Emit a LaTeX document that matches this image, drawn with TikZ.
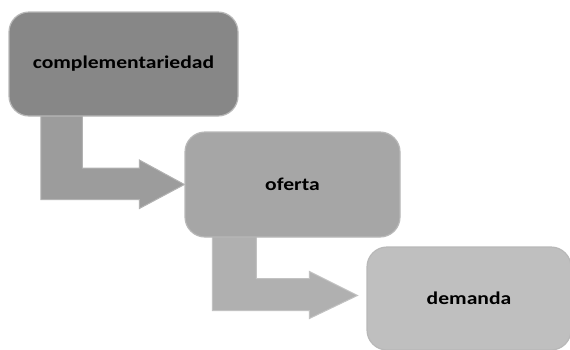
\documentclass[tikz,border=0pt]{standalone}
\usepackage{fontspec}
\setmainfont{Carlito}
\usetikzlibrary{calc,backgrounds}
\begin{document}
\begin{tikzpicture}[x=1pt,y=-1pt,
  boxstyle/.style={draw=black!28,line width=1.2pt,rounded corners=20pt,inner sep=0pt,
     font=\bfseries\fontsize{18}{20}\selectfont},
  arrowone/.style={fill=black!39,draw=black!30,line width=1pt},
  arrowtwo/.style={fill=black!31,draw=black!24,line width=1pt}]
\useasboundingbox (0,0) rectangle (570,349);
% boxes (nodes)
\node[boxstyle,fill=black!47,minimum width=229pt,minimum height=104pt] (b1) at (123.5,64) {\scalebox{1.2}[1]{complementariedad}};
\node[boxstyle,fill=black!35,minimum width=215pt,minimum height=105pt] (b2) at (292.5,184.5) {\scalebox{1.2}[1]{oferta}};
\node[boxstyle,fill=black!25,minimum width=204pt,minimum height=103pt] (b3) at (469,298.5) {\scalebox{1.2}[1]{demanda}};
% block arrows, from box to box, drawn behind the boxes
\path let \p1=(b1.south west), \p2=(b2.west) in
  coordinate (a1s) at (\x1+32.5,\y1+2)
  coordinate (a1t) at (\p2);
\path let \p1=(b2.south west), \p2=(b3.west) in
  coordinate (a2s) at (\x1+28,\y1+2)
  coordinate (a2t) at (\x2-9,\y2+3);
\begin{scope}[on background layer]
\fill[arrowone] (a1s) -- ++(41.5,0) |- ($(a1t)+(-45,-16.5)$) -- ++(0,-8) -- (a1t)
  -- ++(-45,24) -- ++(0,-9) -| (a1s);
\fill[arrowtwo] (a2s) -- ++(44,0) |- ($(a2t)+(-48,-17)$) -- ++(0,-7) -- (a2t)
  -- ++(-48,23) -- ++(0,-8) -| (a2s);
\end{scope}
\end{tikzpicture}
\end{document}
